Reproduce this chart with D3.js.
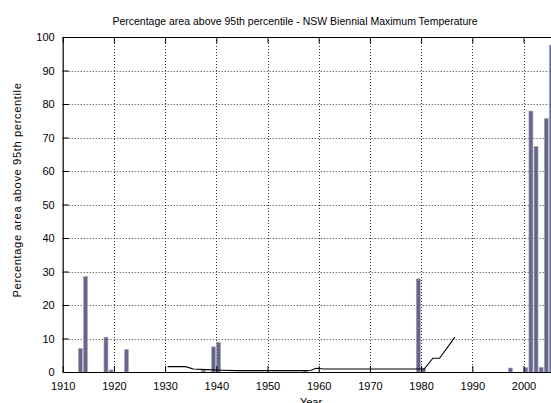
<!DOCTYPE html>
<html>
<head>
<meta charset="utf-8">
<script src="https://cdn.jsdelivr.net/npm/d3@7"></script>
<style>
  html, body { margin: 0; padding: 0; background: #fff; }
  svg { display: block; }
  text { font-family: "Liberation Sans", Arial, Helvetica, sans-serif; fill: #000; }
</style>
</head>
<body>
<svg id="chart" width="551" height="403"></svg>
<script>
// ---- data ----
const title = "Percentage area above 95th percentile - NSW Biennial Maximum Temperature";
const yLabel = "Percentage area above 95th percentile";
const xLabel = "Year";
const barYears  = [1913, 1914, 1918, 1919, 1922, 1937, 1939, 1940, 1957, 1979, 1980, 1997, 2000, 2001, 2002, 2003, 2004, 2005];
const barValues = [7.0, 28.5, 10.4, 0.6, 6.7, 0.5, 7.5, 8.8, 0.4, 27.8, 1.0, 1.2, 1.3, 77.9, 67.3, 1.4, 75.7, 97.6];
const lineYears  = [1930.5, 1934, 1935.5, 1938, 1941, 1944, 1957, 1958.5, 1959.5, 1961, 1980.6, 1982.3, 1983.6, 1986.6];
const lineValues = [1.6, 1.6, 0.9, 0.7, 0.5, 0.4, 0.4, 0.5, 1.1, 0.9, 0.9, 4.1, 4.1, 10.4];
const xTicks = [1910, 1920, 1930, 1940, 1950, 1960, 1970, 1980, 1990, 2000];
const yTicks = [0, 10, 20, 30, 40, 50, 60, 70, 80, 90, 100];

// ---- layout ----
const svg = d3.select("#chart");
const mLeft = 62.7, mTop = 37, mBottom = 372;
const pxPerYear = 5.12;
const x = d3.scaleLinear().domain([1910, 2010]).range([mLeft, mLeft + 100 * pxPerYear]);
const y = d3.scaleLinear().domain([0, 100]).range([mBottom, mTop]);
const mRight = x(2010);

const g = svg.append("g");

// grid
const grid = g.append("g").attr("stroke", "#000").attr("stroke-width", 0.8).attr("stroke-dasharray", "1,2");
grid.selectAll("line.v").data(xTicks.slice(1)).join("line")
  .attr("x1", d => Math.round(x(d)) + 0.5).attr("x2", d => Math.round(x(d)) + 0.5)
  .attr("y1", mTop).attr("y2", mBottom);
grid.selectAll("line.h").data(yTicks.slice(1, -1)).join("line")
  .attr("x1", mLeft).attr("x2", mRight)
  .attr("y1", d => Math.round(y(d)) + 0.5).attr("y2", d => Math.round(y(d)) + 0.5);

// bars
const bars = barYears.map((yr, i) => ({ yr, v: barValues[i] }));
g.append("g").selectAll("rect").data(bars).join("rect")
  .attr("x", d => x(d.yr + 0.45) - 2)
  .attr("width", 4)
  .attr("y", d => y(d.v))
  .attr("height", d => y(0) - y(d.v))
  .attr("fill", "#66668a")
  .attr("stroke", "#a8a8bc")
  .attr("stroke-width", 0.6);

// line
const pts = lineYears.map((yr, i) => [yr, lineValues[i]]);
g.append("path").datum(pts)
  .attr("fill", "none").attr("stroke", "#000").attr("stroke-width", 1.1)
  .attr("d", d3.line().x(d => x(d[0])).y(d => y(d[1])));

// axes
const xAxis = d3.axisBottom(x).tickValues(xTicks).tickFormat(d3.format("d")).tickSizeInner(-6).tickSizeOuter(0).tickPadding(10);
const xg = g.append("g").attr("transform", `translate(0,${mBottom})`).call(xAxis);
const yAxis = d3.axisLeft(y).tickValues(yTicks).tickSizeInner(-6).tickSizeOuter(0).tickPadding(8);
const yg = g.append("g").attr("transform", `translate(${mLeft},0)`).call(yAxis);
const xTop = d3.axisTop(x).tickValues(xTicks).tickFormat("").tickSizeInner(-6).tickSizeOuter(0);
g.append("g").attr("transform", `translate(0,${mTop})`).call(xTop);

[xg, yg].forEach(a => {
  a.selectAll("text").style("font-size", "11px").style("font-family", "'Liberation Sans', Arial, sans-serif");
});
g.selectAll(".domain").attr("stroke", "#000").attr("stroke-width", 1.2);
g.selectAll(".tick line").attr("stroke", "#000");

// titles
svg.append("text").attr("x", 295).attr("y", 25).attr("text-anchor", "middle")
  .style("font-size", "10.5px").text(title);
svg.append("text").attr("transform", `translate(21,190) rotate(-90)`).attr("text-anchor", "middle")
  .style("font-size", "11.2px").style("letter-spacing", "0.6px").text(yLabel);
svg.append("text").attr("x", 311).attr("y", 406).attr("text-anchor", "middle")
  .style("font-size", "11px").text(xLabel);
</script>
</body>
</html>
